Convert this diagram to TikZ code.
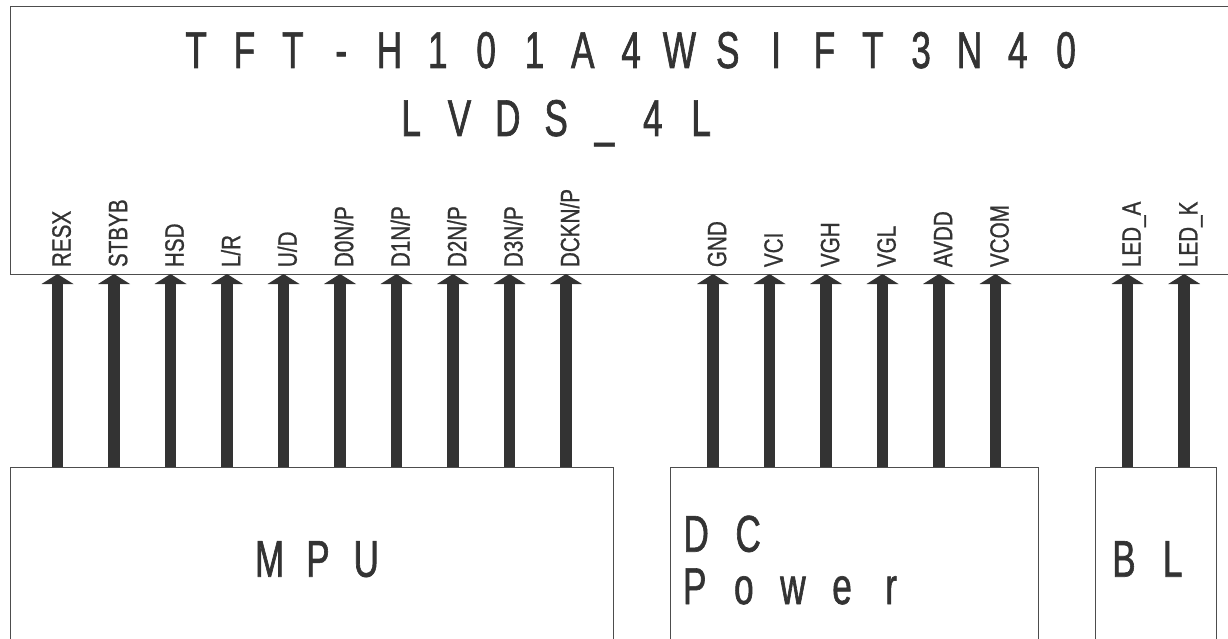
\documentclass[tikz,border=0pt]{standalone}
\usepackage{fontspec}
\setmainfont{Liberation Sans}
\newfontfamily\cadfont[FakeStretch=0.68,FakeBold=1.2]{Liberation Sans}
\newfontfamily\pinfont[FakeStretch=0.78,FakeBold=0.8]{Liberation Sans}
\usetikzlibrary{arrows.meta}
\definecolor{ink}{HTML}{333333}
\definecolor{boxline}{HTML}{4D4D4D}
\ExplSyntaxOn
\NewDocumentCommand\pitched{m m}{\tl_map_inline:nn {#2}{\makebox[#1][c]{##1}}}
\ExplSyntaxOff
\tikzset{
  blockbox/.style={draw=boxline, line width=1.4pt, inner sep=0pt, anchor=north west},
  bigtext/.style={font=\cadfont\fontsize{51.7}{52}\selectfont, text=ink, inner sep=0pt, anchor=base west},
  pinlabel/.style={font=\pinfont\fontsize{26.5}{27}\selectfont, text=ink, rotate=90, anchor=base west, inner sep=0pt},
  pinarrow/.style={draw=ink, line width=11.6pt, -{Triangle[width=32pt,length=10pt,line width=0pt]}}
}
\begin{document}
\begin{tikzpicture}[x=1pt,y=-1pt]
\useasboundingbox (0,0) rectangle (1228,639);
\clip (0,0) rectangle (1228,639);
% blocks
\node[blockbox, minimum width=1240pt, minimum height=268pt] (lcd) at (10,6) {};
\node[blockbox, minimum width=603pt, minimum height=190pt] (mpu) at (10,467) {};
\node[blockbox, minimum width=368pt, minimum height=190pt] (dc) at (670,467) {};
\node[blockbox, minimum width=120.7pt, minimum height=190pt] (bl) at (1095,467) {};
% titles
\node[bigtext] (title1) at (171.8,68) {\pitched{48.33pt}{TFT-H101A4WSIFT3N40}};
\node[bigtext] (title2) at (386.8,136) {\pitched{48.33pt}{LVDS\_4L}};
\node[bigtext] (mputext) at (245.3,576.7) {\pitched{48.3pt}{MPU}};
\node[bigtext] (dctext) at (670,551.7) {\pitched{52pt}{DC}};
\node[bigtext] (powertext) at (670,604) {\pitched{49.1pt}{Power}};
\node[bigtext] (bltext) at (1099.3,576.7) {\pitched{48.8pt}{BL}};
% MPU pins
\foreach \n/\lab/\x in {m1/RESX/57.5, m2/STBYB/114, m3/HSD/170.5, m4/{L/R}/227, m5/{U/D}/283.5,
  m6/{D0N/P}/340, m7/{D1N/P}/396.5, m8/{D2N/P}/453, m9/{D3N/P}/509.5, m10/{DCKN/P}/566}{
  \node[pinlabel] (\n) at (\x+13.2,267.3) {\lab};
  \coordinate (\n top) at (\x,274);
  \draw[pinarrow] (mpu.north -| \n top) -- (\n top);
}
% DC pins
\foreach \n/\lab/\x in {d1/GND/713, d2/VCI/769.5, d3/VGH/826, d4/VGL/882.5, d5/AVDD/939, d6/VCOM/995.5}{
  \node[pinlabel] (\n) at (\x+13.2,267.3) {\lab};
  \coordinate (\n top) at (\x,274);
  \draw[pinarrow] (dc.north -| \n top) -- (\n top);
}
% BL pins
\foreach \n/\lab/\x in {b1/{LED\_A}/1127.5, b2/{LED\_K}/1184.2}{
  \node[pinlabel] (\n) at (\x+13.2,267.3) {\lab};
  \coordinate (\n top) at (\x,274);
  \draw[pinarrow] (bl.north -| \n top) -- (\n top);
}
\end{tikzpicture}
\end{document}
